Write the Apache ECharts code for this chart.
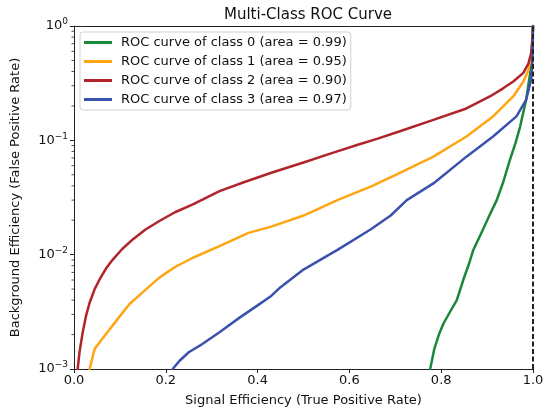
<!DOCTYPE html>
<html>
<head>
<meta charset="utf-8">
<script src="https://cdn.jsdelivr.net/npm/echarts@6/dist/echarts.min.js"></script>
<style>html,body{margin:0;padding:0;background:#fff}#c{width:548px;height:412px}</style>
</head>
<body>
<div id="c"></div>
<script>
const seriesNames = [
  'ROC curve of class 0 (area = 0.99)',
  'ROC curve of class 1 (area = 0.95)',
  'ROC curve of class 2 (area = 0.90)',
  'ROC curve of class 3 (area = 0.97)'
];
const colors = ['#1a873b', '#ffa514', '#b0242a', '#3a52ad'];

const class0Tpr = [0.776, 0.785, 0.795, 0.805, 0.82, 0.834, 0.848, 0.86, 0.87, 0.891, 0.905, 0.921, 0.935, 0.95, 0.962, 0.972, 0.985, 0.994, 0.998, 1.0];
const class0Fpr = [0.001, 0.0015, 0.002, 0.0025, 0.0032, 0.0040, 0.0060, 0.0082, 0.011, 0.0166, 0.022, 0.030, 0.043, 0.068, 0.095, 0.132, 0.226, 0.39, 0.6, 1.0];

const class1Tpr = [0.034, 0.045, 0.06, 0.077, 0.1, 0.121, 0.15, 0.186, 0.22, 0.259, 0.317, 0.38, 0.43, 0.5, 0.574, 0.65, 0.71, 0.783, 0.855, 0.913, 0.957, 0.979, 0.99, 0.997, 1.0];
const class1Fpr = [0.001, 0.0015, 0.0018, 0.0022, 0.0029, 0.0037, 0.0047, 0.0063, 0.0078, 0.0094, 0.0119, 0.0155, 0.0176, 0.022, 0.030, 0.040, 0.052, 0.072, 0.108, 0.162, 0.242, 0.327, 0.41, 0.58, 1.0];

const class2Tpr = [0.008, 0.012, 0.019, 0.026, 0.034, 0.045, 0.056, 0.07, 0.085, 0.105, 0.128, 0.155, 0.186, 0.22, 0.259, 0.317, 0.37, 0.43, 0.5, 0.56, 0.62, 0.66, 0.71, 0.783, 0.855, 0.906, 0.935, 0.957, 0.979, 0.99, 0.996, 0.999, 1.0];
const class2Fpr = [0.001, 0.0014, 0.0021, 0.0029, 0.0038, 0.0050, 0.0061, 0.0076, 0.0091, 0.0112, 0.0136, 0.0165, 0.0197, 0.0235, 0.0275, 0.0359, 0.043, 0.052, 0.064, 0.077, 0.092, 0.103, 0.12, 0.151, 0.19, 0.242, 0.285, 0.327, 0.389, 0.47, 0.58, 0.8, 1.0];

const class3Tpr = [0.215, 0.23, 0.25, 0.274, 0.317, 0.36, 0.4, 0.428, 0.45, 0.5, 0.574, 0.646, 0.69, 0.725, 0.783, 0.855, 0.913, 0.964, 0.985, 0.996, 0.999, 1.0];
const class3Fpr = [0.001, 0.00118, 0.0014, 0.0016, 0.0021, 0.0028, 0.0036, 0.0043, 0.0052, 0.0074, 0.011, 0.0166, 0.022, 0.030, 0.042, 0.072, 0.108, 0.162, 0.226, 0.34, 0.54, 1.0];

const diagTpr = [1.0, 1.0];
const diagFpr = [0.001, 1.0];

const minorTickValues = [];
[0.001, 0.01, 0.1].forEach(function (d) { for (let k = 2; k <= 9; k++) minorTickValues.push(+(d * k).toPrecision(3)); });

function zip(a, b) { return a.map(function (v, i) { return [v, b[i]]; }); }
const curves = [zip(class0Tpr, class0Fpr), zip(class1Tpr, class1Fpr), zip(class2Tpr, class2Fpr), zip(class3Tpr, class3Fpr)];

const FONT = 'DejaVu Sans';
const chart = echarts.init(document.getElementById('c'), null, { renderer: 'canvas' });

const lineSeries = curves.map(function (d, i) {
  return {
    name: seriesNames[i], type: 'line', data: d, symbol: 'none', smooth: false,
    lineStyle: { color: colors[i], width: 2.5, join: 'round', cap: 'round' }, itemStyle: { color: colors[i] }, z: 3, animation: false
  };
});

const spine = { show: true, onZero: false, lineStyle: { color: '#222', width: 1 } };

const option = {
  animation: false,
  textStyle: { fontFamily: FONT },
  title: {
    text: 'Multi-Class ROC Curve', left: 303, top: 3, textAlign: 'center',
    textStyle: { fontFamily: FONT, fontSize: 15, fontWeight: 'normal', color: '#111' }
  },
  grid: { left: 74, right: 15, top: 26, bottom: 42, show: false },
  legend: {
    data: seriesNames, orient: 'vertical', left: 80, top: 32,
    icon: 'rect', itemWidth: 28, itemHeight: 3, itemGap: 6,
    padding: [4, 4, 4, 4],
    backgroundColor: '#fff', borderColor: '#d0d0d0', borderWidth: 1, borderRadius: 3,
    textStyle: { fontFamily: FONT, fontSize: 13, color: '#111', padding: [0, 0, 0, 4] }
  },
  xAxis: [{
    type: 'value', min: 0, max: 1, interval: 0.2,
    name: 'Signal Efficiency (True Positive Rate)', nameLocation: 'middle', nameGap: 25,
    nameTextStyle: { fontFamily: FONT, fontSize: 13, color: '#111' },
    axisLine: spine,
    axisTick: { show: true, length: 4, inside: false, lineStyle: { color: '#222' } },
    axisLabel: { fontFamily: FONT, fontSize: 13, color: '#111', margin: 5, formatter: function (v) { return v.toFixed(1); } },
    splitLine: { show: false }
  }, {
    type: 'value', min: 0, max: 1, position: 'top',
    axisLine: spine, axisTick: { show: false }, axisLabel: { show: false }, splitLine: { show: false }
  }],
  yAxis: {
    type: 'log', logBase: 10, min: 0.001, max: 1,
    name: 'Background Efficiency (False Positive Rate)', nameLocation: 'middle', nameGap: 52,
    nameTextStyle: { fontFamily: FONT, fontSize: 13, color: '#111' },
    axisLine: spine,
    axisTick: { show: true, length: 4, inside: false, lineStyle: { color: '#222' } },
    axisLabel: {
      fontFamily: FONT, color: '#111', margin: 6,
      formatter: function (v) {
        const e = Math.round(Math.log10(v));
        return '{b|10}{s|' + (e < 0 ? '\u2212' + (-e) : String(e)) + '}';
      },
      rich: {
        b: { fontFamily: FONT, fontSize: 13, color: '#111', lineHeight: 17 },
        s: { fontFamily: FONT, fontSize: 9, color: '#111', lineHeight: 10, verticalAlign: 'top' }
      }
    },
    splitLine: { show: false }
  },
  series: lineSeries.concat([
    {
      name: 'diag', type: 'line', data: zip(diagTpr, diagFpr), symbol: 'none',
      lineStyle: { color: '#222', width: 2, type: [5, 2.5] }, z: 4, silent: true
    },
    {
      name: 'minor', type: 'custom', data: minorTickValues.map(function (v) { return [0, v]; }),
      clip: false, silent: true, z: 5,
      renderItem: function (params, api) {
        const p = api.coord([api.value(0), api.value(1)]);
        return { type: 'line', shape: { x1: p[0] - 2.5, y1: p[1], x2: p[0], y2: p[1] }, style: { stroke: '#222', lineWidth: 0.8 } };
      }
    }
  ])
};
chart.setOption(option);
</script>
</body>
</html>
